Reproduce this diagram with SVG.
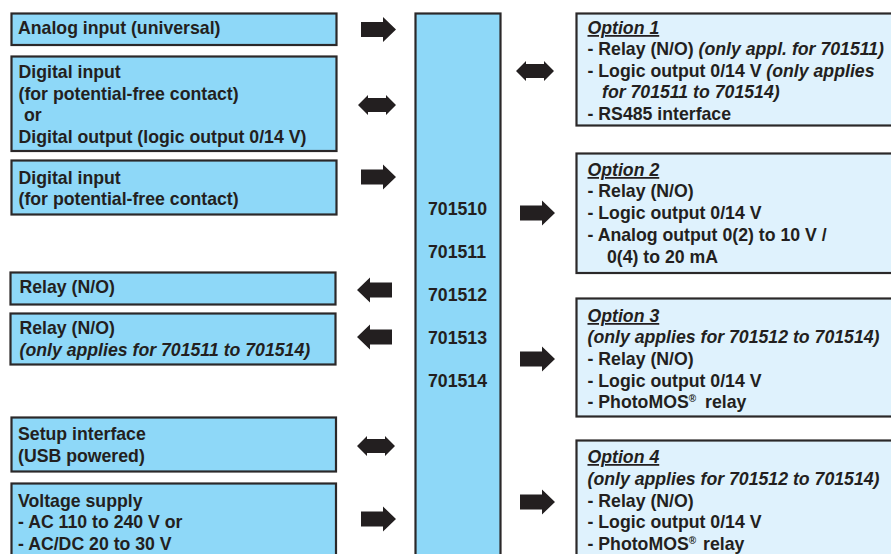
<svg xmlns="http://www.w3.org/2000/svg" width="891" height="554" viewBox="0 0 891 554">
<style>
text{font-family:"Liberation Sans",Arial,sans-serif;font-weight:700;font-size:17.700px;fill:#231f20}
.i{font-style:italic}
.u{font-style:italic;text-decoration:underline}
.m{fill:#8ed8f8;stroke:#2b2829;stroke-width:2.2}
.o{fill:#dff2fd;stroke:#2b2829;stroke-width:2.2}
.a{fill:#231f20}
.r{font-size:10px}
</style>
<defs>
<path id="R" class="a" d="M0-7.500H22V-12.500L35 0 22 12.500V7.500H0Z"/>
<path id="L" class="a" d="M35-7.500H13V-12.500L0 0 13 12.500V7.500H35Z"/>
<path id="D" class="a" d="M0 0 10-10V-7H28V-10L38 0 28 10V7H10V10Z"/>
</defs>
<g id="connectors">
<use href="#R" x="361" y="29.500"/>
<use href="#D" x="358" y="105"/>
<use href="#R" x="361" y="177"/>
<use href="#L" x="357" y="290"/>
<use href="#L" x="357" y="337"/>
<use href="#D" x="357" y="446"/>
<use href="#R" x="361" y="519"/>
<use href="#D" x="516" y="71"/>
<use href="#R" x="520" y="213"/>
<use href="#R" x="520" y="359"/>
<use href="#R" x="520" y="502"/>
</g>
<g id="analog-input"><rect class="m" x="11.500" y="13.500" width="325" height="31.500"/><text x="18" y="34">Analog input (universal)</text></g>
<g id="digital-io"><rect class="m" x="11.500" y="56.500" width="325" height="94.500"/><text x="18.500" y="78">Digital input</text><text x="18.500" y="100">(for potential-free contact)</text><text x="24" y="121">or</text><text x="18.500" y="143">Digital output (logic output 0/14 V)</text></g>
<g id="digital-input"><rect class="m" x="11.500" y="160.500" width="325" height="54"/><text x="18.500" y="184">Digital input</text><text x="18.500" y="205">(for potential-free contact)</text></g>
<g id="relay-1"><rect class="m" x="10.500" y="272.500" width="325" height="32"/><text x="19.500" y="293">Relay (N/O)</text></g>
<g id="relay-2"><rect class="m" x="10.500" y="313.500" width="325" height="51"/><text x="19.500" y="334">Relay (N/O)</text><text class="i" x="19.500" y="356">(only applies for 701511 to 701514)</text></g>
<g id="setup"><rect class="m" x="11.500" y="417.500" width="324.500" height="54"/><text x="18" y="440">Setup interface</text><text x="18" y="462">(USB powered)</text></g>
<g id="voltage"><rect class="m" x="11.500" y="483.500" width="324.500" height="80"/><text x="18" y="507">Voltage supply</text><text x="18" y="528">- AC 110 to 240 V or</text><text x="18" y="550">- AC/DC 20 to 30 V</text></g>
<g id="device"><rect class="m" x="415.500" y="13.500" width="85" height="550"/><text x="428" y="214.500">701510</text><text x="428" y="257.500">701511</text><text x="428" y="300.500">701512</text><text x="428" y="343.500">701513</text><text x="428" y="386.500">701514</text></g>
<g id="option-1"><rect class="o" x="576.500" y="13.500" width="330" height="112"/><text class="u" x="587.500" y="34">Option 1</text><text x="587.500" y="55">- Relay (N/O) <tspan class="i">(only appl. for 701511)</tspan></text><text x="587.500" y="77">- Logic output 0/14 V <tspan class="i">(only applies</tspan></text><text class="i" x="602" y="98">for 701511 to 701514)</text><text x="587.500" y="120">- RS485 interface</text></g>
<g id="option-2"><rect class="o" x="576.500" y="153.500" width="330" height="119.500"/><text class="u" x="587.500" y="176">Option 2</text><text x="587.500" y="197">- Relay (N/O)</text><text x="587.500" y="219">- Logic output 0/14 V</text><text x="587.500" y="241">- Analog output 0(2) to 10 V /</text><text x="607" y="263">0(4) to 20 mA</text></g>
<g id="option-3"><rect class="o" x="576.500" y="298.500" width="330" height="118"/><text class="u" x="587.500" y="322">Option 3</text><text class="i" x="587.500" y="343">(only applies for 701512 to 701514)</text><text x="587.500" y="365">- Relay (N/O)</text><text x="587.500" y="387">- Logic output 0/14 V</text><text x="587.500" y="408">- PhotoMOS<tspan class="r" dy="-6">®</tspan><tspan dy="6" dx="4"> relay</tspan></text></g>
<g id="option-4"><rect class="o" x="576.500" y="440.500" width="330" height="120"/><text class="u" x="587.500" y="463">Option 4</text><text class="i" x="587.500" y="485">(only applies for 701512 to 701514)</text><text x="587.500" y="507">- Relay (N/O)</text><text x="587.500" y="528">- Logic output 0/14 V</text><text x="587.500" y="550">- PhotoMOS<tspan class="r" dy="-6">®</tspan><tspan dy="6" dx="2"> relay</tspan></text></g>
</svg>
